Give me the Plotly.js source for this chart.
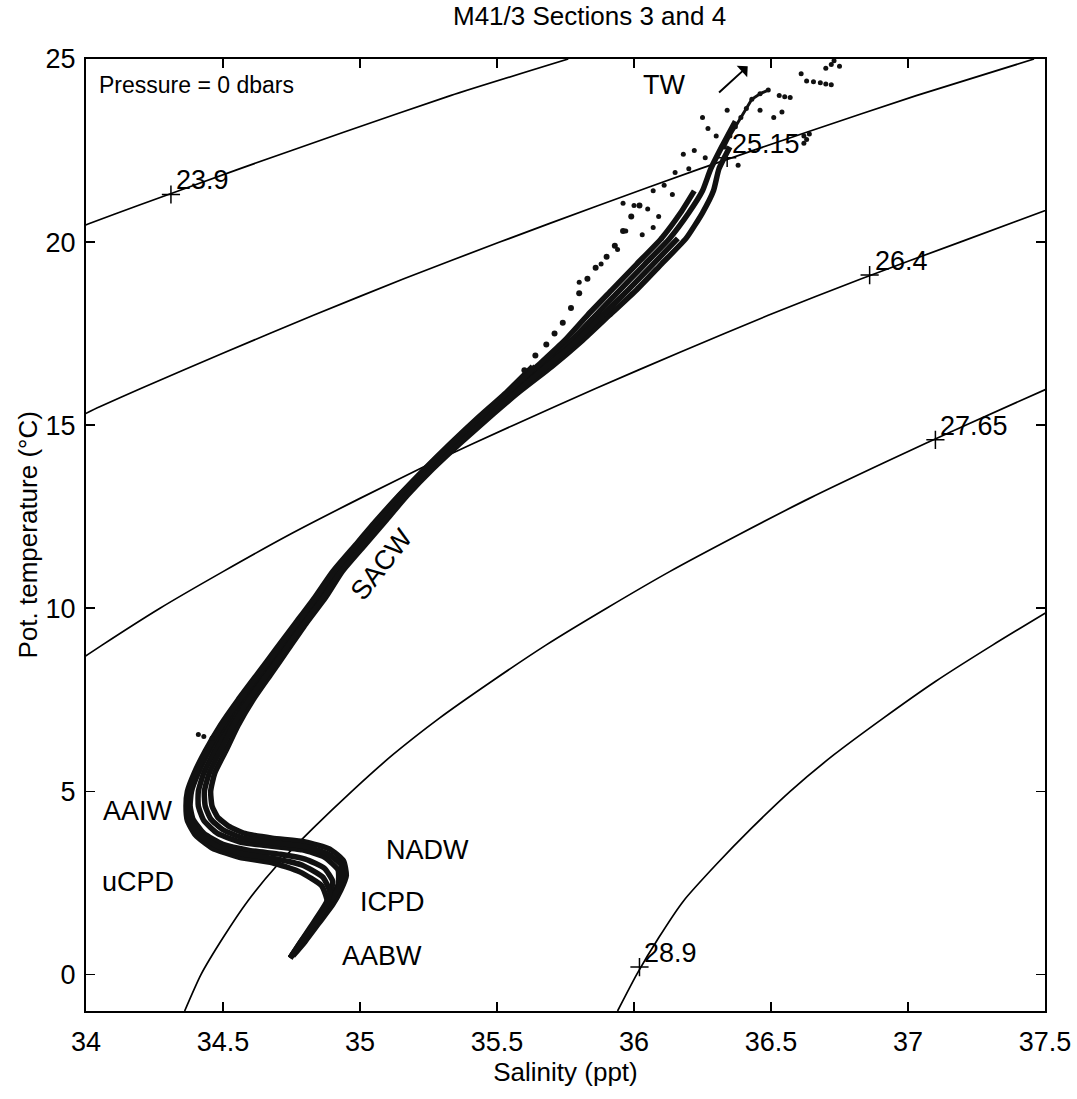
<!DOCTYPE html>
<html><head><meta charset="utf-8">
<script src="https://cdn.plot.ly/plotly-3.0.1.min.js"></script>
<style>body{margin:0;background:#fff}#chart{width:1077px;height:1099px}</style>
</head><body><div id="chart"></div>
<script>
// Isopycnals (sigma-theta, 0 dbar)
const iso239S = [33.84,34.01,34.19,34.56,34.94,35.33,35.76];
const iso239T = [20,20.5,21,22,23,24,25];
const iso2515S = [33.91,34.05,34.20,34.51,34.83,35.16,35.51,35.87,36.24,36.63,37.03,37.46];
const iso2515T = [15,15.5,16,17,18,19,20,21,22,23,24,25];
const iso264S = [33.86,33.96,34.06,34.27,34.50,34.74,35.00,35.27,35.56,35.86,36.17,36.49,36.83,37.19,37.55];
const iso264T = [8,8.5,9,10,11,12,13,14,15,16,17,18,19,20,21];
const iso2765S = [34.36,34.42,34.50,34.59,34.70,34.83,34.97,35.12,35.29,35.48,35.68,35.90,36.13,36.38,36.64,36.92,37.21,37.51];
const iso2765T = [-1,0,1,2,3,4,5,6,7,8,9,10,11,12,13,14,15,16];
const iso289S = [35.94,36.01,36.09,36.18,36.30,36.43,36.57,36.73,36.91,37.10,37.31,37.53];
const iso289T = [-1,0,1,2,3,4,5,6,7,8,9,10];

// contour label positions
const labelText = ['23.9','25.15','26.4','27.65','28.9'];
const labelS = [34.31,36.34,36.86,37.10,36.02];
const labelT = [21.3,22.3,19.1,14.6,0.2];

// CTD profiles (salinity, potential temperature)
const st1S = [36.35,36.31,36.29,36.25,36.19,36.10,36.01,35.91,35.81,35.70,35.58,35.47,35.365,35.265,35.175,35.095,35.015,34.935,34.875,34.805,34.74,34.675,34.61,34.555,34.51,34.47,34.455,34.46,34.48,34.52,34.58,34.68,34.80,34.89,34.94,34.95,34.93,34.90,34.85,34.80,34.755];
const st1T = [22.6,22.0,21.4,20.8,20.1,19.4,18.7,18.0,17.3,16.6,15.9,15.2,14.5,13.8,13.1,12.4,11.7,11.0,10.3,9.6,8.9,8.2,7.5,6.8,6.1,5.5,5.0,4.6,4.3,4.05,3.85,3.72,3.62,3.42,3.1,2.7,2.3,1.9,1.4,0.9,0.5];
const st2S = [36.37,36.32,36.28,36.25,36.20,36.13,36.04,35.95,35.86,35.77,35.66,35.555,35.45,35.35,35.25,35.16,35.08,35.00,34.92,34.86,34.79,34.72,34.65,34.58,34.52,34.47,34.43,34.41,34.41,34.43,34.48,34.57,34.68,34.79,34.87,34.92,34.92,34.89,34.85,34.81,34.78,34.745];
const st2T = [23.3,22.6,22.0,21.4,20.8,20.1,19.4,18.7,18.0,17.3,16.6,15.9,15.2,14.5,13.8,13.1,12.4,11.7,11.0,10.3,9.6,8.9,8.2,7.5,6.8,6.1,5.5,5.0,4.6,4.2,3.85,3.6,3.5,3.4,3.2,2.85,2.45,2.05,1.6,1.15,0.8,0.45];
const st3S = [36.22,36.17,36.10,36.01,35.92,35.83,35.745,35.645,35.545,35.44,35.34,35.24,35.15,35.07,34.99,34.91,34.845,34.775,34.705,34.635,34.565,34.505,34.45,34.41,34.385,34.38,34.39,34.43,34.50,34.60,34.71,34.80,34.87,34.90,34.89,34.86,34.82,34.78,34.745];
const st3T = [21.4,20.8,20.1,19.4,18.7,18.0,17.3,16.6,15.9,15.2,14.5,13.8,13.1,12.4,11.7,11.0,10.3,9.6,8.9,8.2,7.5,6.8,6.1,5.5,5.0,4.6,4.25,3.85,3.55,3.38,3.28,3.15,2.9,2.55,2.15,1.75,1.3,0.85,0.45];
const st4S = [35.63,35.535,35.43,35.33,35.235,35.145,35.06,34.98,34.90,34.835,34.765,34.695,34.625,34.555,34.49,34.435,34.395,34.37,34.365,34.37,34.40,34.46,34.56,34.68,34.78,34.86,34.88,34.86,34.82,34.78,34.745];
const st4T = [16.6,15.9,15.2,14.5,13.8,13.1,12.4,11.7,11.0,10.3,9.6,8.9,8.2,7.5,6.8,6.1,5.5,5.0,4.6,4.2,3.8,3.45,3.2,3.05,2.8,2.42,2.0,1.6,1.2,0.8,0.45];
const st5S = [36.16,36.07,35.98,35.885,35.79,35.68,35.57,35.46,35.358,35.258,35.168,35.088,35.008,34.928,34.868,34.798,34.73,34.662,34.595,34.537,34.49,34.45,34.432,34.435,34.455,34.50,34.575,34.68,34.795,34.88,34.93,34.935,34.91,34.875,34.83,34.79,34.75];
const st5T = [20.1,19.4,18.7,18.0,17.3,16.6,15.9,15.2,14.5,13.8,13.1,12.4,11.7,11.0,10.3,9.6,8.9,8.2,7.5,6.8,6.1,5.5,5.0,4.6,4.25,3.95,3.72,3.6,3.5,3.3,3.0,2.6,2.2,1.8,1.3,0.9,0.5];
const st6S = [35.64,35.54,35.435,35.335,35.237,35.147,35.065,34.985,34.905,34.84,34.77,34.70,34.63,34.56,34.497,34.442,34.40,34.377,34.372,34.38,34.415,34.48,34.58,34.695,34.79,34.865,34.89,34.875,34.835,34.785,34.745];
const st6T = [16.6,15.9,15.2,14.5,13.8,13.1,12.4,11.7,11.0,10.3,9.6,8.9,8.2,7.5,6.8,6.1,5.5,5.0,4.6,4.2,3.82,3.5,3.28,3.15,2.98,2.65,2.25,1.85,1.4,0.9,0.45];
// Tropical Water chain near the surface
const twS = [36.33,36.35,36.37,36.39,36.41,36.43,36.46,36.49];
const twT = [22.6,22.9,23.15,23.4,23.65,23.9,24.05,24.15];
// upper-left chain and scattered bottles
const chainS = [35.60,35.64,35.68,35.71,35.74,35.77,35.80,35.83,35.86,35.90,35.93,35.96,35.99,36.02];
const chainT = [16.5,16.9,17.2,17.5,17.8,18.2,18.6,19.0,19.3,19.6,19.9,20.3,20.7,21.0];
const dotS = [36.25,36.27,36.34,36.46,36.51,36.54,36.61,36.18,36.22,36.26,35.96,36.00,36.05,36.07,36.11,36.14,36.09,36.07,36.10,36.03,36.38,36.30,36.20,36.15,35.97,35.94,35.88,35.80,36.62,36.63,36.64,36.62,36.53,36.55,36.57,36.63,36.655,36.68,36.70,36.72,36.70,36.72,36.73,36.75,34.41,34.43,34.46];
const dotT = [23.4,23.1,23.6,23.6,23.4,23.55,24.6,22.4,22.5,22.3,21.06,21.0,20.9,21.4,21.55,21.3,20.7,20.4,20.1,20.2,22.1,22.9,22.0,21.9,20.3,19.8,19.4,18.9,22.9,22.8,22.95,22.7,24.0,23.97,23.95,24.4,24.38,24.35,24.32,24.3,24.75,24.85,24.95,24.8,6.55,6.5,6.45];

const FONT = 'Liberation Sans, Arial, Helvetica, sans-serif';
const isoLine = {color:'#000', width:1.7, shape:'spline', smoothing:0.6};
const traces = [];
[[iso239S,iso239T],[iso2515S,iso2515T],[iso264S,iso264T],[iso2765S,iso2765T],[iso289S,iso289T]].forEach(p=>{
  traces.push({x:p[0], y:p[1], mode:'lines', line:isoLine, hoverinfo:'skip', showlegend:false});
});
traces.push({x:labelS, y:labelT, mode:'markers', marker:{symbol:'cross-thin', size:13, line:{color:'#000', width:1.5}}, showlegend:false, hoverinfo:'skip'});
[[st1S,st1T],[st2S,st2T],[st3S,st3T],[st4S,st4T],[st5S,st5T],[st6S,st6T]].forEach(p=>{
  traces.push({x:p[0], y:p[1], mode:'lines', line:{color:'#111', width:5.5, shape:'spline', smoothing:0.5}, showlegend:false, hoverinfo:'skip'});
});
traces.push({x:twS, y:twT, mode:'lines+markers', line:{color:'#111', width:3}, marker:{color:'#111', size:5}, showlegend:false});
traces.push({x:chainS, y:chainT, mode:'markers', marker:{color:'#111', size:6}, showlegend:false});
traces.push({x:dotS, y:dotT, mode:'markers', marker:{color:'#111', size:5}, showlegend:false});

const ann = [];
labelText.forEach((t,i)=>{
  ann.push({x:labelS[i], y:labelT[i], xref:'x', yref:'y', text:t, showarrow:false, xanchor:'left', yanchor:'middle', xshift:3, yshift:14, font:{family:FONT, size:27, color:'#000'}});
});
const wm = [
  ['Pressure = 0 dbars',34.04,24.3,'left',0,23],
  ['TW',36.11,24.3,'center',0,27],
  ['SACW',35.08,11.2,'center',-52,27],
  ['AAIW',34.19,4.45,'center',0,27],
  ['uCPD',34.19,2.51,'center',0,27],
  ['NADW',35.245,3.41,'center',0,27],
  ['ICPD',35.12,1.97,'center',0,27],
  ['AABW',35.08,0.49,'center',0,27]
];
wm.forEach(w=>{
  ann.push({x:w[1], y:w[2], xref:'x', yref:'y', text:w[0], showarrow:false, xanchor:w[3], yanchor:'middle', textangle:w[4], font:{family:FONT, size:w[5], color:'#000'}});
});
ann.push({x:36.415, y:24.8, ax:36.305, ay:24.05, xref:'x', yref:'y', axref:'x', ayref:'y', text:'', showarrow:true, arrowhead:1, arrowsize:1.3, arrowwidth:2, arrowcolor:'#000'});
ann.push({x:-0.06, y:0.5, xref:'paper', yref:'paper', xanchor:'center', yanchor:'middle', text:'Pot. temperature (°C)', textangle:-90, showarrow:false, font:{family:FONT, size:26, color:'#000'}});
ann.push({x:0.525, y:1, xref:'paper', yref:'paper', xanchor:'center', yanchor:'bottom', yshift:26, text:'M41/3 Sections 3 and 4', showarrow:false, font:{family:FONT, size:26, color:'#000'}});

const layout = {
  width:1077, height:1099,
  margin:{l:86, r:32, t:59, b:88},
  paper_bgcolor:'#fff', plot_bgcolor:'#fff',
  font:{family:FONT, color:'#000'},
  xaxis:{range:[34,37.5], tickvals:[34,34.5,35,35.5,36,36.5,37,37.5], ticktext:['34','34.5','35','35.5','36','36.5','37','37.5'],
    ticks:'inside', ticklen:9, tickwidth:1.5, tickcolor:'#000', showline:true, linecolor:'#000', linewidth:2, mirror:'ticks',
    showgrid:false, zeroline:false, tickfont:{family:FONT, size:27, color:'#000'}, ticklabelstandoff:6,
    title:{text:'Salinity (ppt)', font:{family:FONT, size:26, color:'#000'}, standoff:4}},
  yaxis:{range:[-1,25], tickvals:[0,5,10,15,20,25], ticktext:['0','5','10','15','20','25'],
    ticks:'inside', ticklen:9, tickwidth:1.5, tickcolor:'#000', showline:true, linecolor:'#000', linewidth:2, mirror:'ticks',
    showgrid:false, zeroline:false, tickfont:{family:FONT, size:27, color:'#000'}, ticklabelstandoff:3},
  annotations:ann,
  showlegend:false
};
Plotly.newPlot('chart', traces, layout, {displayModeBar:false, staticPlot:true});
</script></body></html>
